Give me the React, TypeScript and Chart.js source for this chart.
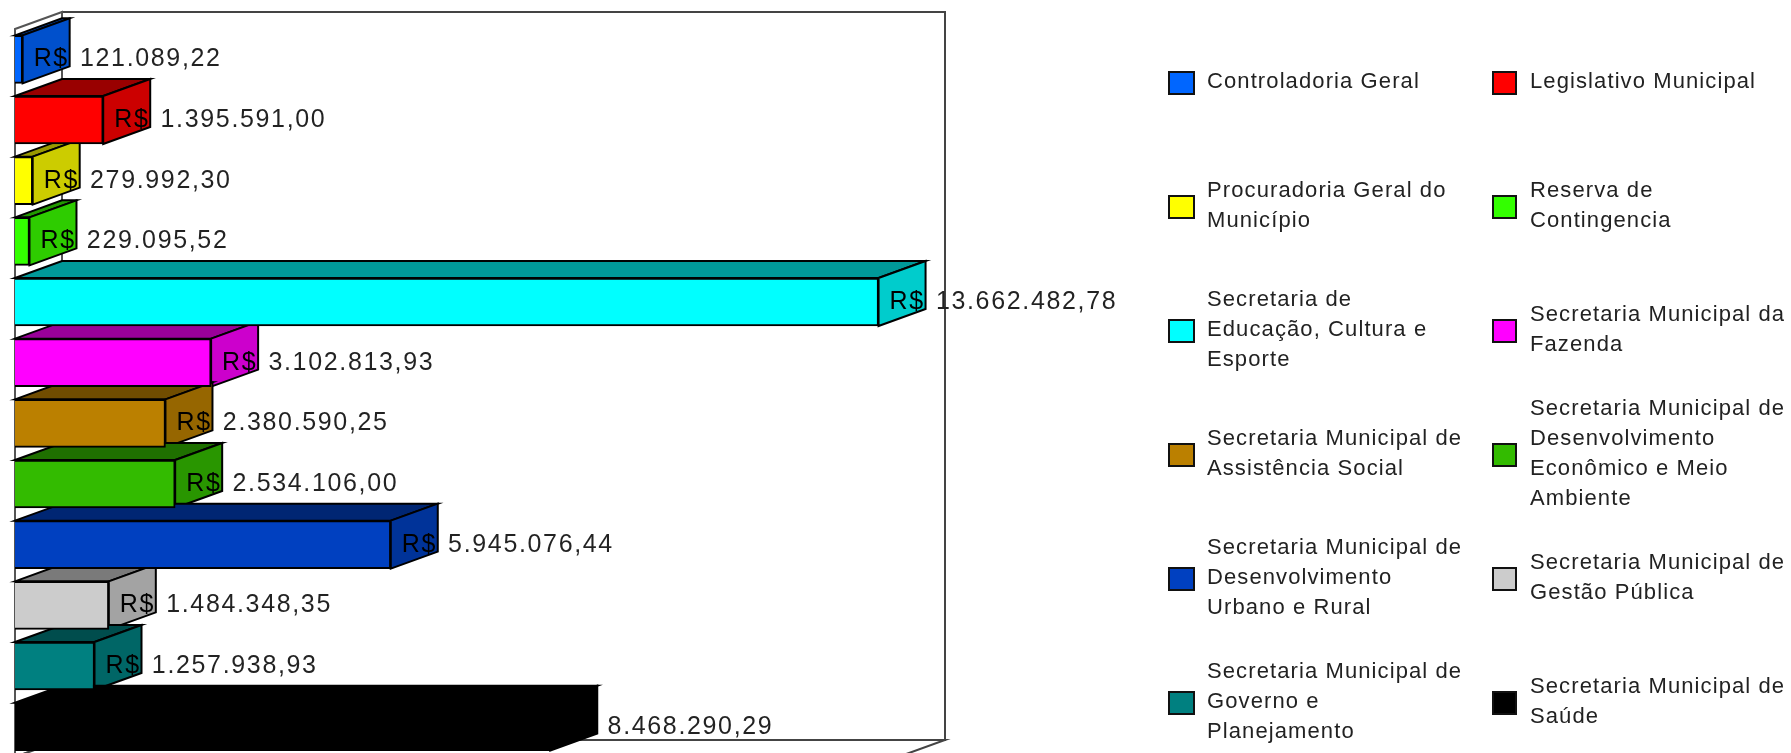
import React, { useEffect, useRef } from "react";
import { Chart, registerables } from "chart.js";

Chart.register(...registerables);

const categories = [
  "Controladoria Geral",
  "Legislativo Municipal",
  "Procuradoria Geral do Município",
  "Reserva de Contingencia",
  "Secretaria de Educação, Cultura e Esporte",
  "Secretaria Municipal da Fazenda",
  "Secretaria Municipal de Assistência Social",
  "Secretaria Municipal de Desenvolvimento Econômico e Meio Ambiente",
  "Secretaria Municipal de Desenvolvimento Urbano e Rural",
  "Secretaria Municipal de Gestão Pública",
  "Secretaria Municipal de Governo e Planejamento",
  "Secretaria Municipal de Saúde",
];
const values = [
  121089.22, 1395591.0, 279992.3, 229095.52, 13662482.78, 3102813.93,
  2380590.25, 2534106.0, 5945076.44, 1484348.35, 1257938.93, 8468290.29,
];
const valueLabels = [
  "R$ 121.089,22", "R$ 1.395.591,00", "R$ 279.992,30", "R$ 229.095,52",
  "R$ 13.662.482,78", "R$ 3.102.813,93", "R$ 2.380.590,25", "R$ 2.534.106,00",
  "R$ 5.945.076,44", "R$ 1.484.348,35", "R$ 1.257.938,93", "R$ 8.468.290,29",
];
const frontColors = [
  "#0066ff", "#ff0000", "#ffff00", "#33ff00", "#00ffff", "#ff00ff",
  "#bb8000", "#33bb00", "#0040c0", "#cccccc", "#008080", "#000000",
];
const sideColors = [
  "#0050cc", "#cc0000", "#cccc00", "#2ecc00", "#00cccc", "#cc00cc",
  "#966600", "#299600", "#003399", "#a3a3a3", "#006666", "#000000",
];
const topColors = [
  "#003d99", "#990000", "#999900", "#229900", "#009999", "#990099",
  "#704d00", "#1f7000", "#002673", "#7a7a7a", "#004d4d", "#000000",
];
const legendLines = [
  ["Controladoria Geral"],
  ["Legislativo Municipal"],
  ["Procuradoria Geral do", "Município"],
  ["Reserva de", "Contingencia"],
  ["Secretaria de", "Educação, Cultura e", "Esporte"],
  ["Secretaria Municipal da", "Fazenda"],
  ["Secretaria Municipal de", "Assistência Social"],
  ["Secretaria Municipal de", "Desenvolvimento", "Econômico e Meio", "Ambiente"],
  ["Secretaria Municipal de", "Desenvolvimento", "Urbano e Rural"],
  ["Secretaria Municipal de", "Gestão Pública"],
  ["Secretaria Municipal de", "Governo e", "Planejamento"],
  ["Secretaria Municipal de", "Saúde"],
];

const DX = 47;
const DY = 17;
const FONT = '"Liberation Sans", Arial, sans-serif';

function poly(ctx: CanvasRenderingContext2D, pts: number[][], fill: string | null, stroke: string, lw = 2) {
  ctx.beginPath();
  pts.forEach(([x, y], i) => (i ? ctx.lineTo(x, y) : ctx.moveTo(x, y)));
  ctx.closePath();
  if (fill) {
    ctx.fillStyle = fill;
    ctx.fill();
  }
  ctx.strokeStyle = stroke;
  ctx.lineWidth = lw;
  ctx.stroke();
}

const walls3d = {
  id: "walls3d",
  beforeDatasetsDraw(chart: any) {
    const { ctx, chartArea: a } = chart;
    ctx.save();
    poly(ctx, [[a.left + DX, a.top - DY], [a.right + DX, a.top - DY], [a.right + DX, a.bottom - DY], [a.left + DX, a.bottom - DY]], "#ffffff", "#444444");
    poly(ctx, [[a.left, a.top], [a.left + DX, a.top - DY], [a.left + DX, a.bottom - DY], [a.left, a.bottom]], "#ffffff", "#555555");
    poly(ctx, [[a.left, a.bottom], [a.left + DX, a.bottom - DY], [a.right + DX, a.bottom - DY], [a.right, a.bottom]], "#ffffff", "#444444");
    ctx.restore();
  },
};

const bars3d = {
  id: "bars3d",
  // Extrudes each bar the library has laid out: the side and top faces are drawn
  // before the front faces so that the library's own rectangles stay on top.
  beforeDatasetDraw(chart: any) {
    const { ctx } = chart;
    const meta = chart.getDatasetMeta(0);
    ctx.save();
    meta.data.forEach((bar: any, i: number) => {
      const t = bar.y - bar.height / 2;
      const b = bar.y + bar.height / 2;
      poly(ctx, [[bar.base, t], [bar.base + DX, t - DY], [bar.x + DX, t - DY], [bar.x, t]], topColors[i], "#000000");
      poly(ctx, [[bar.x, t], [bar.x + DX, t - DY], [bar.x + DX, b - DY], [bar.x, b]], sideColors[i], "#000000");
    });
    ctx.restore();
  },
  afterDatasetsDraw(chart: any) {
    const { ctx } = chart;
    const meta = chart.getDatasetMeta(0);
    ctx.save();
    ctx.font = `25px ${FONT}`;
    (ctx as any).letterSpacing = "1.65px";
    (ctx as any).wordSpacing = "2.5px";
    ctx.textAlign = "left";
    ctx.textBaseline = "middle";
    meta.data.forEach((bar: any, i: number) => {
      // Text over the extruded side reads black, so it vanishes on the black bar.
      const edge = bar.x + DX;
      const g = ctx.createLinearGradient(edge, 0, edge + 1, 0);
      g.addColorStop(0, "#000000");
      g.addColorStop(1, "#222222");
      ctx.fillStyle = g;
      ctx.fillText(valueLabels[i], bar.x + 11, bar.y);
    });
    ctx.restore();
  },
};

const sideLegend = {
  id: "sideLegend",
  afterDraw(chart: any) {
    const { ctx } = chart;
    const swatchX = [1169, 1493];
    const swatchW = [25, 23];
    const textX = [1207, 1530];
    const rowY = [83, 207, 331, 455, 579, 703];
    const lineH = 30;
    ctx.save();
    ctx.font = `22px ${FONT}`;
    (ctx as any).letterSpacing = "1.1px";
    ctx.textAlign = "left";
    ctx.textBaseline = "middle";
    legendLines.forEach((lines, i) => {
      const col = i % 2;
      const cy = rowY[Math.floor(i / 2)];
      ctx.fillStyle = frontColors[i];
      ctx.strokeStyle = "#111111";
      ctx.lineWidth = 2;
      ctx.fillRect(swatchX[col], cy - 11, swatchW[col], 22);
      ctx.strokeRect(swatchX[col], cy - 11, swatchW[col], 22);
      ctx.fillStyle = "#222222";
      lines.forEach((line, k) => {
        ctx.fillText(line, textX[col], cy - 1 + (k - (lines.length - 1) / 2) * lineH);
      });
    });
    ctx.restore();
  },
};

export default function App() {
  const ref = useRef<HTMLCanvasElement | null>(null);
  useEffect(() => {
    const chart = new Chart(ref.current!, {
      type: "bar",
      data: {
        labels: categories,
        datasets: [
          {
            data: values,
            backgroundColor: frontColors,
            borderColor: "#000000",
            borderWidth: 2,
            barThickness: 48,
          },
        ],
      },
      options: {
        indexAxis: "y",
        responsive: false,
        animation: false,
        layout: { padding: { left: 15, top: 29, right: 893, bottom: 3 } },
        plugins: { legend: { display: false }, tooltip: { enabled: false }, title: { display: false } },
        scales: {
          x: { display: false, min: 0, max: 13970000, grid: { display: false } },
          y: { display: false, grid: { display: false } },
        },
      },
      plugins: [walls3d, bars3d, sideLegend],
    } as any);
    return () => chart.destroy();
  }, []);
  return (
    <div style={{ position: "fixed", left: 0, top: 0, width: 1791, height: 753, overflow: "hidden", background: "#ffffff" }}>
      <canvas ref={ref} width={1791} height={760} style={{ display: "block", filter: "blur(0.4px)" }} />
    </div>
  );
}
